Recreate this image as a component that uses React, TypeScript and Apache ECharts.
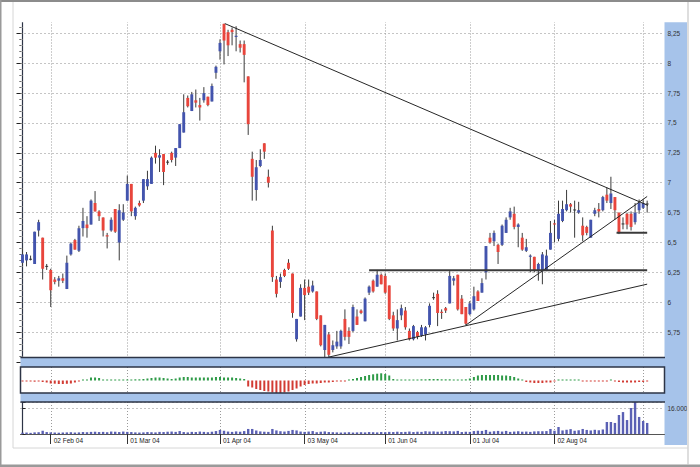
import React, { useEffect, useRef } from "react";
import * as echarts from "echarts";

// Trading-day index 0 = 22 Jan 04. Each row: [open, high, low, close]
const candles: number[][] = [
  [6.33, 6.45, 6.31, 6.40], [6.35, 6.42, 6.30, 6.40], [6.36, 6.39, 6.35, 6.357], [6.32, 6.59, 6.32, 6.59], [6.60, 6.69, 6.55, 6.67],
  [6.54, 6.54, 6.19, 6.28], [6.30, 6.32, 6.27, 6.297], [6.27, 6.28, 5.96, 6.10], [6.19, 6.21, 6.15, 6.17], [6.18, 6.22, 6.13, 6.20],
  [6.20, 6.24, 6.16, 6.18], [6.11, 6.39, 6.11, 6.33], [6.40, 6.50, 6.39, 6.49], [6.52, 6.53, 6.44, 6.44], [6.43, 6.64, 6.42, 6.62],
  [6.62, 6.79, 6.55, 6.68], [6.65, 6.72, 6.54, 6.62], [6.65, 6.86, 6.65, 6.85], [6.83, 6.93, 6.76, 6.76], [6.76, 6.77, 6.68, 6.72],
  [6.71, 6.71, 6.55, 6.60], [6.56, 6.58, 6.45, 6.55], [6.60, 6.71, 6.59, 6.69], [6.78, 6.78, 6.58, 6.59], [6.50, 6.82, 6.35, 6.77],
  [6.69, 6.82, 6.68, 6.75], [6.85, 7.06, 6.85, 6.99], [6.99, 6.99, 6.72, 6.76], [6.72, 6.80, 6.69, 6.79], [6.83, 6.85, 6.80, 6.81],
  [6.85, 7.03, 6.83, 7.03], [6.97, 7.10, 6.94, 7.03], [6.99, 7.22, 6.99, 7.21], [7.25, 7.31, 7.16, 7.21], [7.21, 7.28, 7.09, 7.23],
  [7.24, 7.24, 6.98, 7.09], [7.17, 7.19, 7.15, 7.172], [7.25, 7.26, 7.17, 7.19], [7.21, 7.29, 7.14, 7.29], [7.29, 7.49, 7.29, 7.49],
  [7.42, 7.74, 7.42, 7.59], [7.71, 7.73, 7.63, 7.64], [7.60, 7.76, 7.60, 7.74], [7.69, 7.78, 7.63, 7.67], [7.65, 7.71, 7.52, 7.63],
  [7.69, 7.80, 7.67, 7.75], [7.72, 7.72, 7.64, 7.65], [7.68, 7.83, 7.68, 7.81], [7.92, 7.98, 7.87, 7.97], [8.10, 8.20, 8.03, 8.17],
  [8.33, 8.33, 7.99, 8.19], [8.26, 8.28, 8.06, 8.15], [8.28, 8.30, 8.15, 8.26], [8.22, 8.31, 8.10, 8.23], [8.16, 8.19, 8.09, 8.13],
  [8.16, 8.19, 7.84, 8.07], [7.89, 7.89, 7.40, 7.49], [7.20, 7.26, 6.85, 7.05], [6.94, 7.19, 6.85, 7.13], [7.14, 7.28, 7.13, 7.19],
  [7.33, 7.33, 7.20, 7.26], [7.05, 7.11, 6.96, 7.00], [6.60, 6.64, 6.17, 6.21], [6.19, 6.22, 6.04, 6.07], [6.17, 6.24, 6.12, 6.21],
  [6.27, 6.28, 6.21, 6.22], [6.33, 6.36, 6.27, 6.28], [6.24, 6.24, 5.87, 5.91], [5.69, 5.86, 5.67, 5.86], [5.88, 6.15, 5.88, 6.12],
  [6.12, 6.19, 5.85, 6.06], [6.13, 6.19, 6.06, 6.08], [6.09, 6.18, 6.08, 6.14], [6.09, 6.09, 5.85, 5.86], [5.89, 5.89, 5.63, 5.64],
  [5.60, 5.81, 5.54, 5.81], [5.73, 5.75, 5.53, 5.56], [5.60, 5.68, 5.58, 5.64], [5.63, 5.76, 5.61, 5.67], [5.63, 5.77, 5.61, 5.76],
  [5.86, 5.94, 5.68, 5.71], [5.76, 5.79, 5.65, 5.71], [5.76, 5.98, 5.75, 5.96], [5.88, 5.94, 5.81, 5.81], [5.93, 5.94, 5.90, 5.91],
  [5.84, 6.04, 5.84, 6.03], [6.08, 6.14, 6.06, 6.13], [6.18, 6.19, 6.08, 6.09], [6.13, 6.27, 6.13, 6.23], [6.23, 6.24, 6.15, 6.15],
  [6.22, 6.24, 6.07, 6.08], [6.14, 6.14, 5.85, 5.86], [5.89, 5.92, 5.76, 5.78], [5.78, 5.94, 5.68, 5.85], [5.89, 5.98, 5.85, 5.95],
  [5.93, 5.96, 5.77, 5.79], [5.76, 5.78, 5.68, 5.69], [5.69, 5.81, 5.68, 5.80], [5.75, 5.76, 5.69, 5.71], [5.72, 5.81, 5.71, 5.79],
  [5.73, 5.80, 5.68, 5.79], [5.81, 5.99, 5.79, 5.97], [6.035, 6.08, 6.02, 6.038], [6.07, 6.10, 5.80, 5.91], [5.92, 5.94, 5.86, 5.91],
  [5.95, 5.96, 5.91, 5.93], [5.99, 6.26, 5.99, 6.22], [6.18, 6.22, 6.14, 6.20], [6.23, 6.23, 5.93, 5.94], [6.03, 6.06, 5.90, 5.90],
  [5.96, 5.96, 5.81, 5.82], [5.90, 6.01, 5.89, 5.99], [5.94, 6.13, 5.93, 6.05], [6.09, 6.10, 6.01, 6.01], [6.08, 6.20, 6.08, 6.16],
  [6.25, 6.47, 6.19, 6.47], [6.54, 6.58, 6.49, 6.50], [6.51, 6.60, 6.47, 6.58], [6.48, 6.49, 6.32, 6.42], [6.48, 6.65, 6.47, 6.64],
  [6.58, 6.71, 6.58, 6.69], [6.71, 6.79, 6.69, 6.76], [6.74, 6.80, 6.61, 6.63], [6.63, 6.66, 6.46, 6.65], [6.54, 6.58, 6.43, 6.44],
  [6.43, 6.53, 6.42, 6.46], [6.38, 6.40, 6.25, 6.39], [6.38, 6.38, 6.25, 6.27], [6.26, 6.33, 6.18, 6.32], [6.26, 6.42, 6.15, 6.40],
  [6.27, 6.44, 6.26, 6.39], [6.44, 6.68, 6.44, 6.58], [6.66, 6.69, 6.50, 6.65], [6.53, 6.85, 6.51, 6.74], [6.68, 6.85, 6.67, 6.78],
  [6.77, 6.94, 6.76, 6.82], [6.82, 6.83, 6.75, 6.80], [6.772, 6.85, 6.54, 6.77], [6.75, 6.84, 6.74, 6.77], [6.64, 6.71, 6.51, 6.56],
  [6.63, 6.64, 6.56, 6.58], [6.54, 6.69, 6.54, 6.69], [6.74, 6.79, 6.72, 6.77], [6.78, 6.83, 6.71, 6.76], [6.77, 6.89, 6.76, 6.88],
  [6.90, 6.96, 6.83, 6.85], [6.83, 7.05, 6.78, 6.91], [6.88, 6.88, 6.69, 6.77], [6.75, 6.75, 6.57, 6.58], [6.655, 6.71, 6.61, 6.652],
  [6.74, 6.75, 6.61, 6.65], [6.74, 6.76, 6.60, 6.63], [6.67, 6.83, 6.65, 6.75], [6.77, 6.86, 6.74, 6.83], [6.79, 6.86, 6.78, 6.83],
  [6.82, 6.85, 6.75, 6.822],
];

const oscillator: number[] = [
  -0.1, -0.1, -0.1, -0.12, -0.1, -0.15, -0.2, -0.3, -0.32, -0.35,
  -0.35, -0.33, -0.3, -0.2, -0.1, 0.1, 0.1, 0.3, 0.3, 0.25,
  0.1, 0.1, 0.1, 0.1, 0.1, 0.1, 0.1, 0.1, 0.12, 0.12,
  0.15, 0.2, 0.25, 0.3, 0.3, 0.25, 0.2, 0.15, 0.2, 0.3,
  0.35, 0.35, 0.3, 0.3, 0.3, 0.3, 0.3, 0.3, 0.35, 0.35,
  0.3, 0.3, 0.3, 0.25, 0.2, 0.15, -0.6, -0.7, -0.85, -0.95,
  -1.05, -1.1, -1.2, -1.25, -1.25, -1.2, -1.1, -0.95, -0.8, -0.6,
  -0.45, -0.35, -0.3, -0.3, -0.25, -0.2, -0.2, -0.15, -0.1, -0.1,
  -0.1, 0.1, 0.15, 0.25, 0.35, 0.45, 0.55, 0.62, 0.68, 0.72,
  0.65, 0.5, 0.15, 0.1, 0.1, 0.1, 0.1, 0.1, 0.1, 0.12,
  0.12, 0.15, 0.15, 0.15, 0.12, 0.12, 0.12, 0.1, 0.1, 0.1,
  0.12, 0.2, 0.35, 0.5, 0.55, 0.55, 0.55, 0.55, 0.55, 0.5,
  0.5, 0.45, 0.35, 0.2, 0.1, -0.15, -0.2, -0.25, -0.25, -0.25,
  -0.2, -0.2, -0.1, 0.1, 0.1, 0.1, 0.1, 0.1, 0.1, -0.1,
  -0.1, -0.1, -0.1, -0.1, -0.1, -0.1, 0.1, -0.1, -0.15, -0.2,
  -0.2, -0.2, -0.2, -0.15, -0.15, -0.1,
];

const volume: number[] = [
  800, 900, 700, 1000, 1100, 2000, 1200, 1000, 900, 800,
  900, 1000, 1100, 900, 1000, 1200, 1100, 1300, 1400, 1200,
  1300, 1100, 1500, 1400, 1200, 1500, 1300, 1200, 1000, 900,
  1000, 1200, 1100, 1000, 1300, 1200, 1400, 1500, 1300, 1800,
  1200, 1000, 1300, 1200, 1500, 1300, 1100, 1400, 1800, 2500,
  2000, 1500, 1300, 1600, 1400, 1800, 3100, 3100, 2200, 1600,
  1400, 1300, 3100, 2200, 1700, 1500, 1900, 2500, 2200, 1500,
  1300, 1500, 1800, 1100, 1400, 1600, 1200, 1100, 1000, 900,
  1000, 1100, 900, 1000, 1100, 1000, 1200, 1100, 1000, 1200,
  1100, 1300, 1200, 1400, 1200, 1300, 1500, 1200, 1400, 1300,
  1700, 1500, 1600, 1400, 1500, 1800, 1700, 1600, 1900, 1200,
  1400, 1300, 1800, 2000, 1900, 2500, 1400, 1700, 1900, 1500,
  1900, 1300, 1500, 1700, 1400, 1500, 1300, 1600, 1700, 1700,
  1800, 3100, 2000, 4300, 2200, 2600, 3000, 2000, 2300, 3100,
  2500, 2200, 2600, 2300, 2800, 7400, 7400, 6800, 11700, 13500,
  8600, 16000, 19700, 10500, 8000, 6800,
];

// first trading day of each month (index), and its label
const monthStarts: number[] = [7, 26, 49, 70, 90, 111, 132, 154];
const monthLabels: string[] = ["02 Feb 04", "01 Mar 04", "01 Apr 04", "03 May 04", "01 Jun 04", "01 Jul 04", "02 Aug 04", ""];

// trend lines: [[index, price], [index, price]]
const trendLines: number[][][] = [
  [[50.2, 8.332], [155.2, 6.81]],
  [[76.05, 5.541], [155, 6.151]],
  [[110.0, 5.808], [155, 6.885]],
];
const levelLines: number[][][] = [
  [[86, 6.267], [155, 6.267]],
  [[147.4, 6.582], [155, 6.582]],
];

const BLUE = "#4354ad";
const RED = "#e8453c";
const STRIP = "#a6c3ea";
const DARK = "#2d3446";

export default function App() {
  const ref = useRef<HTMLDivElement>(null);
  useEffect(() => {
    if (!ref.current) return;
    const chart = echarts.init(ref.current, undefined, { renderer: "svg" });
    const xMin = -0.5;
    const xMax = 159.3;
    const gridL = 20.5;
    const gridW = 644;

    const vgrid = (xi: number, yi: number) => ({
      type: "custom",
      xAxisIndex: xi,
      yAxisIndex: yi,
      z: 1,
      silent: true,
      data: monthStarts.map((v) => [v]),
      renderItem: (params: any, api: any) => {
        const cs = params.coordSys;
        const x = Math.round(api.coord([api.value(0), 0])[0]) + 0.5;
        return {
          type: "line",
          shape: { x1: x, y1: cs.y, x2: x, y2: cs.y + cs.height },
          style: { stroke: "#9a9a9a", lineWidth: 1, lineDash: [1, 2] },
        };
      },
    });

    const priceFmt = (v: number) => {
      let s = v.toFixed(2);
      s = s.replace(/0$/, "").replace(/\.0?$/, "");
      return s.replace(".", ",");
    };

    const option: any = {
      animation: false,
      backgroundColor: "#ffffff",
      textStyle: { fontFamily: "Liberation Sans, Arial, sans-serif" },
      grid: [
        { left: gridL, top: 2.55, width: gridW, height: 359.4 },
        { left: gridL, top: 367, width: gridW, height: 26 },
        { left: gridL, top: 402, width: gridW, height: 32 },
      ],
      xAxis: [
        { type: "value", gridIndex: 0, min: xMin, max: xMax, show: false, splitLine: { show: false } },
        { type: "value", gridIndex: 1, min: xMin, max: xMax, show: false, splitLine: { show: false } },
        {
          type: "value",
          gridIndex: 2,
          min: xMin,
          max: xMax,
          position: "bottom",
          axisLine: { show: true, lineStyle: { color: "#555", width: 1 } },
          axisTick: {
            show: true,
            length: 10,
            customValues: monthStarts.slice(0, 7),
            lineStyle: { color: "#333", width: 1 },
          },
          axisLabel: {
            show: true,
            customValues: monthStarts.slice(0, 7),
            formatter: (v: number) => {
              const k = monthStarts.indexOf(Math.round(v));
              return k >= 0 ? monthLabels[k] : "";
            },
            align: "left",
            padding: [0, 0, 0, 3],
            margin: 3,
            fontSize: 6.5,
            color: "#222",
          },
          splitLine: { show: false },
        },
      ],
      yAxis: [
        {
          type: "value",
          gridIndex: 0,
          position: "right",
          min: 5.5,
          max: 8.5,
          interval: 0.25,
          axisLine: { show: true, lineStyle: { color: DARK, width: 1.2 } },
          axisTick: { show: true, inside: true, length: 6, lineStyle: { color: "#222" } },
          minorTick: { show: true, splitNumber: 5, length: 3, lineStyle: { color: "#333" } },
          axisLabel: { show: true, formatter: priceFmt, fontSize: 6.5, color: "#333", margin: 3 },
          splitLine: { show: true, lineStyle: { color: "#8a8a8a", type: [1, 3], width: 1 } },
        },
        {
          type: "value",
          gridIndex: 0,
          position: "left",
          min: 5.5,
          max: 8.5,
          interval: 0.25,
          axisLine: { show: false },
          axisTick: { show: true, inside: true, length: 2, lineStyle: { color: "#888" } },
          minorTick: { show: true, splitNumber: 5, length: 2, lineStyle: { color: "#aaa" } },
          axisLabel: { show: false },
          splitLine: { show: false },
        },
        {
          type: "value",
          gridIndex: 1,
          min: -1.25,
          max: 1.35,
          show: false,
          splitLine: { show: false },
        },
        {
          type: "value",
          gridIndex: 2,
          position: "right",
          min: 0,
          max: 19700,
          interval: 16000,
          axisLine: { show: true, lineStyle: { color: DARK, width: 1.2 } },
          axisTick: { show: true, inside: false, length: 3, lineStyle: { color: "#222" } },
          axisLabel: {
            show: true,
            fontSize: 6.5,
            color: "#333",
            margin: 3,
            formatter: (v: number) => (v === 16000 ? "16.000" : ""),
          },
          splitLine: { show: true, lineStyle: { color: "#8a8a8a", type: [1, 3], width: 1 } },
        },
      ],
      series: [
        vgrid(0, 0),
        vgrid(1, 2),
        vgrid(2, 3),
        {
          type: "custom",
          name: "price",
          xAxisIndex: 0,
          yAxisIndex: 0,
          z: 3,
          silent: true,
          data: candles.map((c, i) => [i, c[0], c[1], c[2], c[3]]),
          renderItem: (params: any, api: any) => {
            const i = api.value(0);
            const o = api.value(1);
            const h = api.value(2);
            const l = api.value(3);
            const c = api.value(4);
            const pO = api.coord([i, o]);
            const pC = api.coord([i, c]);
            const pH = api.coord([i, h]);
            const pL = api.coord([i, l]);
            const w = api.size([1, 0])[0] * 0.72;
            const x = pO[0];
            const top = Math.min(pO[1], pC[1]);
            const bot = Math.max(pO[1], pC[1]);
            const doji = Math.abs(c - o) < 0.008;
            const fill = doji ? "#333" : c > o ? BLUE : RED;
            return {
              type: "group",
              children: [
                {
                  type: "line",
                  shape: { x1: x, y1: pH[1], x2: x, y2: pL[1] },
                  style: { stroke: "#3a3a3a", lineWidth: 1 },
                },
                {
                  type: "rect",
                  shape: { x: x - w / 2, y: doji ? top - 0.5 : top, width: w, height: Math.max(bot - top, 1) },
                  style: { fill },
                },
              ],
            };
          },
        },
        ...trendLines.map((seg) => ({
          type: "line",
          xAxisIndex: 0,
          yAxisIndex: 0,
          z: 4,
          silent: true,
          symbol: "none",
          data: seg,
          lineStyle: { color: "#262626", width: 1 },
        })),
        ...levelLines.map((seg) => ({
          type: "line",
          xAxisIndex: 0,
          yAxisIndex: 0,
          z: 4,
          silent: true,
          symbol: "none",
          data: seg,
          lineStyle: { color: "#3a3a3a", width: 2 },
        })),
        {
          type: "bar",
          xAxisIndex: 1,
          yAxisIndex: 2,
          z: 3,
          silent: true,
          barWidth: 2,
          data: oscillator.map((v, i) => [i, v]),
          itemStyle: {
            color: (p: any) => (p.value[1] >= 0 ? "#2f9b48" : "#d23b33"),
          },
        },
        {
          type: "bar",
          xAxisIndex: 2,
          yAxisIndex: 3,
          z: 3,
          silent: true,
          barWidth: 2.4,
          data: volume.map((v, i) => [i, v]),
          itemStyle: { color: "#5a60b4" },
        },
      ],
      graphic: [
        // right blue strip (behind labels)
        { type: "rect", z: -10, silent: true, shape: { x: 664.5, y: 22, width: 22.5, height: 423 }, style: { fill: STRIP } },
        // bands between panels
        { type: "rect", z: 50, silent: true, shape: { x: 20.5, y: 357, width: 666.5, height: 10 }, style: { fill: STRIP } },
        { type: "rect", z: 50, silent: true, shape: { x: 20.5, y: 393, width: 666.5, height: 9 }, style: { fill: STRIP } },
        // panel borders
        { type: "line", z: 60, silent: true, shape: { x1: 20.5, y1: 357.5, x2: 665, y2: 357.5 }, style: { stroke: DARK, lineWidth: 1.5 } },
        { type: "rect", z: 60, silent: true, shape: { x: 20.5, y: 367, width: 644, height: 26 }, style: { fill: "none", stroke: DARK, lineWidth: 1.5 } },
        { type: "line", z: 60, silent: true, shape: { x1: 20.5, y1: 402, x2: 665, y2: 402 }, style: { stroke: DARK, lineWidth: 1.5 } },
        // white cover above the price panel
        { type: "rect", z: 100, silent: true, shape: { x: 14, y: 2, width: 673.5, height: 20.3 }, style: { fill: "#ffffff" } },
        // clip label overflow on the right
        { type: "rect", z: 100, silent: true, shape: { x: 687.2, y: 395, width: 12.8, height: 25 }, style: { fill: "#ffffff" } },
        // outer frame
        { type: "rect", z: 110, silent: true, shape: { x: 0, y: 0, width: 700, height: 2 }, style: { fill: "#8c8c8c" } },
        { type: "rect", z: 110, silent: true, shape: { x: 0, y: 464.5, width: 700, height: 2.5 }, style: { fill: "#9a9a9a" } },
        { type: "rect", z: 110, silent: true, shape: { x: 0, y: 0, width: 1.5, height: 467 }, style: { fill: "#9a9a9a" } },
        { type: "line", z: 110, silent: true, shape: { x1: 688, y1: 2, x2: 688, y2: 464.5 }, style: { stroke: "#bdbdbd", lineWidth: 1 } },
        { type: "line", z: 110, silent: true, shape: { x1: 13, y1: 2, x2: 13, y2: 448 }, style: { stroke: "#d6d6d6", lineWidth: 1 } },
        { type: "line", z: 110, silent: true, shape: { x1: 13, y1: 448, x2: 688, y2: 448 }, style: { stroke: "#d6d6d6", lineWidth: 1 } },
      ],
    };
    chart.setOption(option);
    return () => chart.dispose();
  }, []);
  return <div ref={ref} style={{ position: "absolute", left: 0, top: 0, width: 700, height: 467 }} />;
}
